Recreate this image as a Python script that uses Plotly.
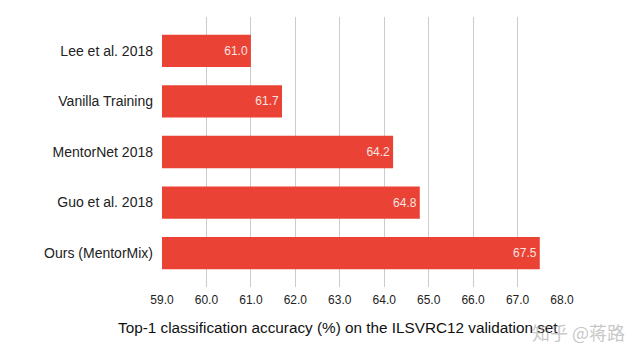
import plotly.graph_objects as go

methods = ["Lee et al. 2018", "Vanilla Training", "MentorNet 2018", "Guo et al. 2018", "Ours (MentorMix)"]
accuracy = [61.0, 61.7, 64.2, 64.8, 67.5]
x_ticks = [59, 60, 61, 62, 63, 64, 65, 66, 67, 68]
x_tick_labels = ["59.0", "60.0", "61.0", "62.0", "63.0", "64.0", "65.0", "66.0", "67.0", "68.0"]
x_title = "Top-1 classification accuracy (%) on the ILSVRC12 validation set"
watermark = "知乎 @蒋路"

L, R, T, B = 162, 78, 17, 75
PW, PH = 640 - L - R, 362 - T - B

fig = go.Figure(go.Bar(
    y=methods,
    x=[a - 59 for a in accuracy],
    base=59,
    orientation="h",
    width=0.64,
    marker=dict(color="#EA4335", line=dict(width=0)),
    text=[f"{a:.1f}" for a in accuracy],
    textposition="inside",
    insidetextanchor="end",
    textfont=dict(family="Liberation Sans, Arial", size=12, color="#F6E4E2"),
    cliponaxis=False,
    hoverinfo="skip",
))

fig.update_layout(
    width=640, height=362,
    margin=dict(l=L, r=R, t=T, b=B, autoexpand=False),
    paper_bgcolor="white", plot_bgcolor="white",
    showlegend=False,
    font=dict(family="Liberation Sans, Arial", color="#222222"),
    xaxis=dict(
        range=[59, 68], tickvals=x_ticks, ticktext=x_tick_labels,
        showgrid=True, gridcolor="#CCCCCC", gridwidth=1,
        zeroline=False, showline=False, automargin=False,
        tickfont=dict(size=12, color="#222222"), ticks="", ticklen=0,
        ticklabelstandoff=4,
    ),
    yaxis=dict(
        categoryorder="array", categoryarray=methods,
        range=[4.67, -0.67], automargin=False,
        showgrid=False, zeroline=False, showline=False,
        tickfont=dict(size=14, color="#222222"), ticks="",
        ticklabelstandoff=8,
    ),
)

def px_to_paper(px, py):
    return (px - L) / PW, (362 - B - py) / PH

tx, ty = px_to_paper(338, 327)
wx, wy = px_to_paper(578, 332)
fig.add_annotation(text=x_title, x=tx, y=ty, xref="paper", yref="paper",
                   showarrow=False, font=dict(size=15.3, color="#111111"),
                   xanchor="center", yanchor="middle")
fig.add_annotation(text=watermark, x=wx, y=wy, xref="paper", yref="paper",
                   showarrow=False,
                   font=dict(size=18, color="rgba(150,150,150,0.55)",
                             family="Noto Sans CJK SC"),
                   xanchor="center", yanchor="middle")

fig.write_html("out.html",
               config={"displayModeBar": False},
               post_script="document.body.style.margin='0';document.body.style.overflow='hidden';")
